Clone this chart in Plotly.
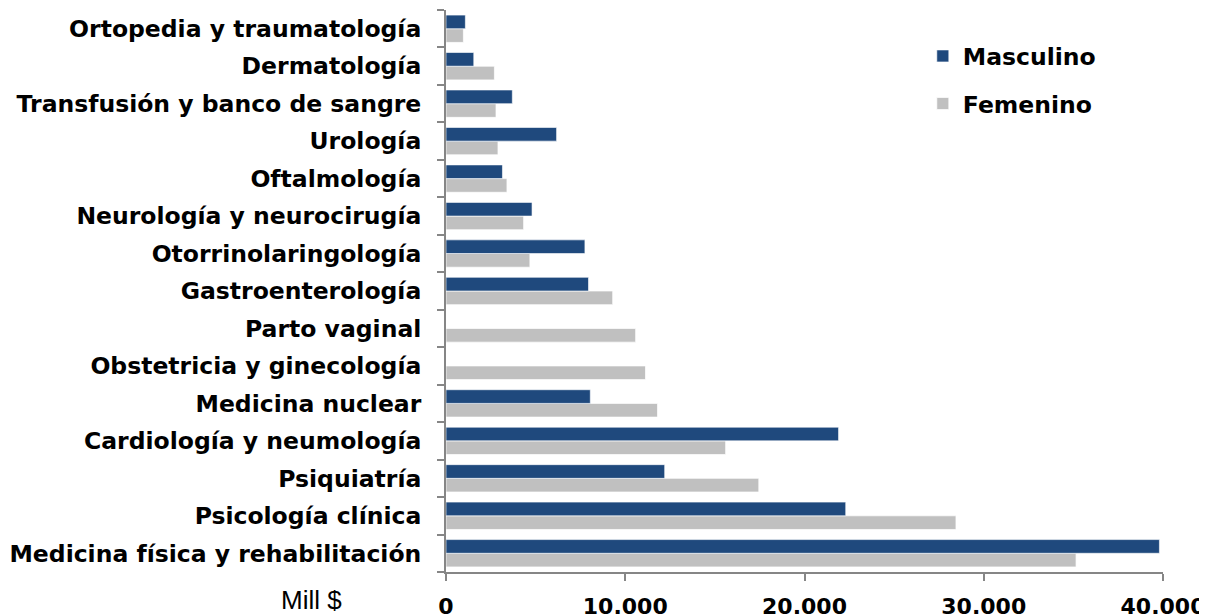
import plotly.graph_objects as go

ESPECIALIDADES = [
    "Medicina física y rehabilitación",
    "Psicología clínica",
    "Psiquiatría",
    "Cardiología y neumología",
    "Medicina nuclear",
    "Obstetricia y ginecología",
    "Parto vaginal",
    "Gastroenterología",
    "Otorrinolaringología",
    "Neurología y neurocirugía",
    "Oftalmología",
    "Urología",
    "Transfusión y banco de sangre",
    "Dermatología",
    "Ortopedia y traumatología",
]
MASCULINO = [39800, 22300, 12200, 21900, 8050, None, None, 7950, 7750, 4800, 3150, 6170, 3700, 1550, 1080]
FEMENINO = [35150, 28450, 17450, 15600, 11800, 11130, 10580, 9300, 4680, 4330, 3400, 2900, 2790, 2700, 970]
X_TICKS = [0, 10000, 20000, 30000, 40000]

AZUL = "#1F497D"
GRIS = "#C0C0C0"
EJE = "#868686"
FONT = "DejaVu Sans"

fig = go.Figure()
# femenino first so that masculino sits on top inside each group
fig.add_trace(go.Bar(
    y=ESPECIALIDADES, x=FEMENINO, name="Femenino", orientation="h",
    marker=dict(color=GRIS, line=dict(color="rgba(255,255,255,0.7)", width=1)),
    legendgroup="f", legendrank=2,
))
fig.add_trace(go.Bar(
    y=ESPECIALIDADES, x=MASCULINO, name="Masculino", orientation="h",
    marker=dict(color=AZUL, line=dict(color="rgba(255,255,255,0.6)", width=1)),
    legendgroup="m", legendrank=1,
))

# page body has an 8px margin, so the figure is a bit smaller than the window
fig.update_layout(
    width=1199,
    height=606,
    barmode="group",
    bargap=0.27,
    bargroupgap=0,
    separators=",.",
    paper_bgcolor="white",
    plot_bgcolor="white",
    margin=dict(l=438, r=44, t=2, b=42, autoexpand=False),
    font=dict(family=FONT, color="black"),
    legend=dict(
        x=0.665, y=0.957, xanchor="left", yanchor="top",
        traceorder="grouped", tracegroupgap=14,
        font=dict(size=23.5, family=FONT, weight="bold"),
        bgcolor="rgba(0,0,0,0)", itemwidth=30,
    ),
    xaxis=dict(
        range=[0, 40000], tickvals=X_TICKS, tickformat=",d",
        showgrid=False, zeroline=False, automargin=False,
        showline=True, linecolor=EJE, linewidth=2,
        ticks="outside", ticklen=7, tickcolor=EJE, tickwidth=2,
        tickfont=dict(size=22, family=FONT, weight="bold"),
        ticklabelstandoff=7,
    ),
    yaxis=dict(
        type="category", categoryorder="array", categoryarray=ESPECIALIDADES,
        showgrid=False, zeroline=False, automargin=False,
        showline=True, linecolor=EJE, linewidth=2,
        ticks="outside", ticklen=7, tickcolor=EJE, tickwidth=2,
        tickson="boundaries",
        tickfont=dict(size=23.5, family=FONT, weight="bold"),
        ticklabelstandoff=18,
    ),
    annotations=[dict(
        text="Mill $", xref="paper", yref="paper", x=-0.187, y=-0.05,
        xanchor="center", yanchor="middle", showarrow=False,
        font=dict(size=26, family="Liberation Sans"),
    )],
)

fig.write_html("out.html")
